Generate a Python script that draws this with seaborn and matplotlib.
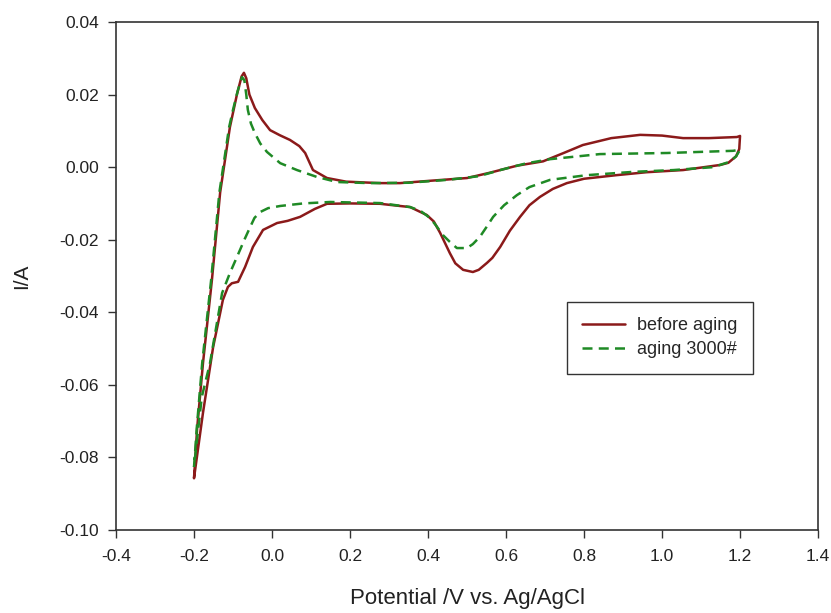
import matplotlib
matplotlib.use("Agg")
import matplotlib.pyplot as plt
import seaborn as sns
import pandas as pd

# ---- data ----
before_x = [-0.200, -0.192, -0.177, -0.154, -0.133, -0.108, -0.090, -0.078, -0.072, -0.066,
            -0.058, -0.044, -0.025, -0.005, 0.020, 0.046, 0.070, 0.085, 0.105, 0.141,
            0.190, 0.277, 0.328, 0.400, 0.500, 0.560, 0.628, 0.695, 0.750, 0.797,
            0.870, 0.944, 1.000, 1.054, 1.120, 1.192, 1.200,
            1.198, 1.190, 1.170, 1.149, 1.054, 0.960, 0.884, 0.800, 0.756,
            0.720, 0.687, 0.660, 0.636, 0.610, 0.585, 0.565, 0.551, 0.530, 0.515,
            0.490, 0.470, 0.456, 0.431, 0.415, 0.397, 0.354, 0.328, 0.277, 0.200,
            0.141, 0.110, 0.072, 0.040, 0.013, -0.023, -0.049, -0.069, -0.087, -0.103,
            -0.113, -0.126, -0.151, -0.177, -0.200]
before_y = [-0.0857, -0.0720, -0.0540, -0.0310, -0.0070, 0.0110, 0.0200, 0.0250, 0.0260, 0.0245,
            0.0200, 0.0163, 0.0130, 0.0102, 0.0088, 0.0075, 0.0058, 0.0039, -0.0008, -0.0030,
            -0.0040, -0.0044, -0.0044, -0.0038, -0.0030, -0.0015, 0.0004, 0.0016, 0.0040, 0.0061,
            0.0080, 0.0089, 0.0087, 0.0080, 0.0080, 0.0083, 0.0086,
            0.0050, 0.0030, 0.0012, 0.0006, -0.0008, -0.0014, -0.0022, -0.0032, -0.0044,
            -0.0060, -0.0082, -0.0105, -0.0137, -0.0175, -0.0220, -0.0250, -0.0264, -0.0283, -0.0289,
            -0.0283, -0.0265, -0.0237, -0.0181, -0.0150, -0.0132, -0.0110, -0.0107, -0.0101, -0.0100,
            -0.0101, -0.0115, -0.0137, -0.0148, -0.0154, -0.0173, -0.0220, -0.0275, -0.0316, -0.0320,
            -0.0330, -0.0366, -0.0496, -0.0677, -0.0857]

aging_x = [-0.200, -0.193, -0.179, -0.156, -0.135, -0.110, -0.100, -0.088, -0.077, -0.071,
           -0.066, -0.062, -0.054, -0.044, -0.030, -0.013, 0.021, 0.064, 0.115, 0.167,
           0.250, 0.350, 0.450, 0.530, 0.585, 0.650, 0.713, 0.841, 1.013, 1.182, 1.200,
           1.190, 1.174, 1.131, 1.030, 0.926, 0.808, 0.713, 0.660, 0.628, 0.595,
           0.567, 0.550, 0.533, 0.515, 0.500, 0.474, 0.455, 0.438, 0.420, 0.405,
           0.380, 0.354, 0.277, 0.149, 0.080, 0.021, -0.010, -0.031, -0.045, -0.056,
           -0.070, -0.082, -0.108, -0.128, -0.159, -0.180, -0.200]
aging_y = [-0.0826, -0.0720, -0.0540, -0.0310, -0.0070, 0.0110, 0.0158, 0.0210, 0.0248, 0.0240,
           0.0200, 0.0158, 0.0120, 0.0094, 0.0065, 0.0042, 0.0011, -0.0008, -0.0027, -0.0041,
           -0.0044, -0.0043, -0.0035, -0.0025, -0.0008, 0.0010, 0.0022, 0.0036, 0.0039, 0.0045, 0.0048,
           0.0030, 0.0015, 0.0000, -0.0008, -0.0013, -0.0022, -0.0035, -0.0055, -0.0077, -0.0105,
           -0.0137, -0.0165, -0.0192, -0.0212, -0.0223, -0.0223, -0.0205, -0.0187, -0.0160, -0.0140,
           -0.0120, -0.0110, -0.0099, -0.0096, -0.0100, -0.0107, -0.0113, -0.0124, -0.0140, -0.0165,
           -0.0198, -0.0228, -0.0292, -0.0347, -0.0540, -0.0633, -0.0826]

series_names = ["before aging", "aging 3000#"]
x_ticks = [-0.4, -0.2, 0.0, 0.2, 0.4, 0.6, 0.8, 1.0, 1.2, 1.4]
y_ticks = [-0.10, -0.08, -0.06, -0.04, -0.02, 0.00, 0.02, 0.04]

df_before = pd.DataFrame({"x": before_x, "y": before_y})
df_aging = pd.DataFrame({"x": aging_x, "y": aging_y})

sns.set_style("ticks")
plt.rcParams["font.family"] = ["Liberation Sans", "DejaVu Sans"]
plt.rcParams["axes.unicode_minus"] = False

fig = plt.figure(figsize=(8.31, 6.13), dpi=100)
ax = fig.add_axes([0.1396, 0.1354, 0.8448, 0.8287])

red = "#8b1a1a"
green = "#1f8a25"
sns.lineplot(data=df_before, x="x", y="y", sort=False, estimator=None, ax=ax,
             color=red, linewidth=1.8, label=series_names[0])
sns.lineplot(data=df_aging, x="x", y="y", sort=False, estimator=None, ax=ax,
             color=green, linewidth=1.8, dashes=False, label=series_names[1])
ax.lines[1].set_linestyle((0, (4, 2.5)))

ax.set_xlim(-0.4, 1.4)
ax.set_ylim(-0.10, 0.04)
ax.set_xticks(x_ticks)
ax.set_xticklabels([f"{v:.1f}" for v in x_ticks])
ax.set_yticks(y_ticks)
ax.set_yticklabels([f"{v:.2f}" for v in y_ticks])
ax.tick_params(axis="both", labelsize=12.5, length=5.5, width=1, color="#333333",
               direction="out", labelcolor="#222222")
ax.tick_params(axis="x", pad=8)
ax.tick_params(axis="y", pad=7)
for s in ax.spines.values():
    s.set_linewidth(1.2)
    s.set_color("#333333")

ax.set_xlabel("Potential /V vs. Ag/AgCl", fontsize=16, color="#222222")
ax.set_ylabel("I/A", fontsize=15, color="#222222")
ax.xaxis.label.set_va("center")
ax.yaxis.label.set_va("center")
ax.xaxis.set_label_coords(0.5, -0.134)
ax.yaxis.set_label_coords(-0.135, 0.5)

leg = ax.legend(loc="upper left", bbox_to_anchor=(0.642, 0.449), fontsize=13,
                frameon=True, fancybox=False, edgecolor="#333333", framealpha=1,
                handlelength=2.4, borderpad=0.85, labelspacing=0.4, handletextpad=0.65,
                borderaxespad=0)
leg.get_frame().set_linewidth(1.0)

fig.savefig("out.png", dpi=100)
